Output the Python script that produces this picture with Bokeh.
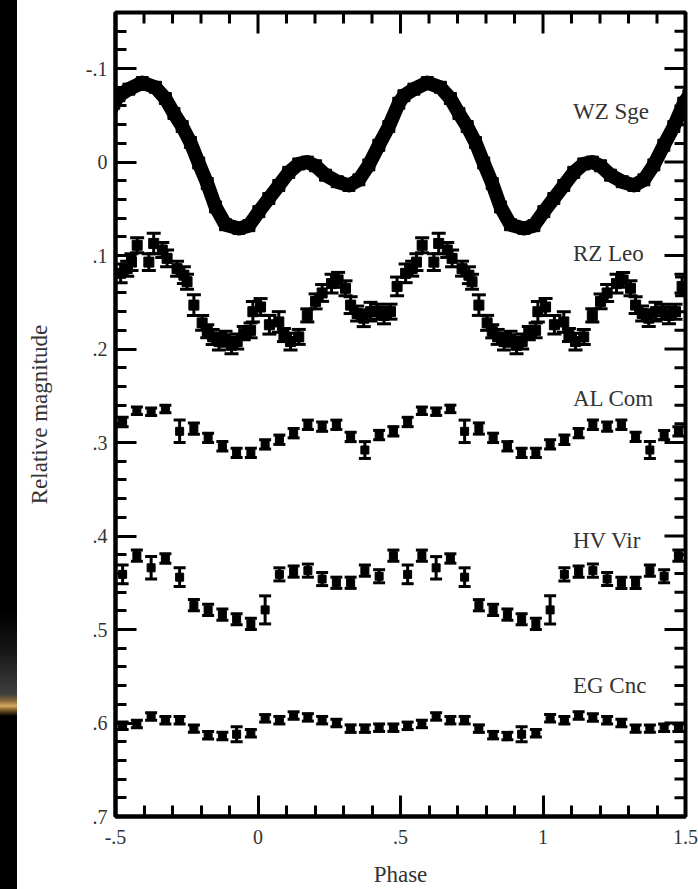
from bokeh.plotting import figure
from bokeh.models import (Range1d, FixedTicker, Whisker, TeeHead, ColumnDataSource, Div)
from bokeh.layouts import row
from bokeh.embed import file_html
from bokeh.resources import INLINE
from bokeh.core.properties import value

# ---------------- data: one phase-folded cycle (phase in [-0.5, 0.5)) -------------
# The published figure repeats each light curve over two cycles (phase -0.5 .. 1.5).
wz_phase = [-0.488, -0.453, -0.406, -0.360, -0.325, -0.295, -0.266, -0.237, -0.208,
            -0.178, -0.149, -0.114, -0.067, -0.032, 0.003, 0.038, 0.073, 0.108,
            0.143, 0.173, 0.202, 0.237, 0.278, 0.319, 0.354, 0.389, 0.424, 0.459, 0.494]
wz_mag = [-0.071, -0.078, -0.085, -0.080, -0.068, -0.052, -0.038, -0.021, 0.001,
          0.023, 0.048, 0.067, 0.071, 0.068, 0.053, 0.039, 0.025, 0.011,
          0.002, 0.000, 0.004, 0.014, 0.021, 0.025, 0.019, 0.003, -0.018, -0.038, -0.063]

rz_phase = [-0.482, -0.459, -0.444, -0.424, -0.383, -0.366, -0.336, -0.319, -0.284,
            -0.260, -0.249, -0.225, -0.196, -0.178, -0.159, -0.137, -0.114, -0.093,
            -0.073, -0.050, -0.026, -0.018, 0.009, 0.040, 0.073, 0.091, 0.114, 0.143,
            0.173, 0.202, 0.225, 0.258, 0.281, 0.307, 0.325, 0.348, 0.371, 0.395,
            0.418, 0.442, 0.465, 0.488]
rz_mag = [0.119, 0.114, 0.107, 0.089, 0.107, 0.087, 0.094, 0.103, 0.114,
          0.121, 0.128, 0.153, 0.172, 0.181, 0.187, 0.192, 0.189, 0.196,
          0.192, 0.183, 0.180, 0.160, 0.155, 0.174, 0.171, 0.185, 0.192, 0.187,
          0.164, 0.149, 0.140, 0.130, 0.126, 0.135, 0.153, 0.162, 0.167, 0.160,
          0.160, 0.164, 0.160, 0.133]
rz_err = [0.010, 0.008, 0.009, 0.008, 0.009, 0.011, 0.008, 0.009, 0.008,
          0.009, 0.008, 0.011, 0.008, 0.007, 0.008, 0.009, 0.008, 0.009,
          0.008, 0.007, 0.008, 0.011, 0.009, 0.010, 0.011, 0.007, 0.009, 0.008,
          0.007, 0.008, 0.009, 0.010, 0.008, 0.008, 0.009, 0.008, 0.009, 0.010,
          0.008, 0.009, 0.008, 0.010]

bin_phase = [-0.475, -0.425, -0.375, -0.325, -0.275, -0.225, -0.175, -0.125, -0.075,
             -0.025, 0.025, 0.075, 0.125, 0.175, 0.225, 0.275, 0.325, 0.375, 0.425, 0.475]

al_mag = [0.278, 0.266, 0.267, 0.264, 0.288, 0.285, 0.295, 0.304, 0.311, 0.311,
          0.302, 0.297, 0.290, 0.281, 0.283, 0.281, 0.294, 0.308, 0.292, 0.288]
al_err = [0.005, 0.004, 0.004, 0.004, 0.012, 0.006, 0.005, 0.005, 0.005, 0.005,
          0.005, 0.005, 0.005, 0.005, 0.005, 0.005, 0.005, 0.009, 0.005, 0.005]

hv_mag = [0.441, 0.421, 0.434, 0.424, 0.444, 0.474, 0.479, 0.484, 0.489, 0.494,
          0.479, 0.441, 0.438, 0.437, 0.446, 0.450, 0.450, 0.437, 0.443, 0.421]
hv_err = [0.010, 0.006, 0.012, 0.005, 0.010, 0.006, 0.006, 0.006, 0.006, 0.006,
          0.015, 0.007, 0.006, 0.007, 0.007, 0.006, 0.006, 0.006, 0.007, 0.006]

eg_mag = [0.603, 0.601, 0.593, 0.597, 0.597, 0.606, 0.613, 0.614, 0.612, 0.611,
          0.595, 0.597, 0.592, 0.594, 0.597, 0.600, 0.606, 0.606, 0.605, 0.605]
eg_err = [0.004, 0.004, 0.004, 0.004, 0.004, 0.004, 0.004, 0.004, 0.008, 0.004,
          0.004, 0.004, 0.004, 0.004, 0.004, 0.004, 0.004, 0.004, 0.004, 0.004]

star_names = ["WZ Sge", "RZ Leo", "AL Com", "HV Vir", "EG Cnc"]
name_y = [-0.054, 0.098, 0.253, 0.405, 0.560]
name_x = 1.105

x_ticks = [-0.5, 0, 0.5, 1, 1.5]
x_tick_labels = ["-.5", "0", ".5", "1", "1.5"]
y_ticks = [-0.1, 0, 0.1, 0.2, 0.3, 0.4, 0.5, 0.6, 0.7]
y_tick_labels = ["-.1", "0", ".1", ".2", ".3", ".4", ".5", ".6", ".7"]
x_minor = [-0.4, -0.3, -0.2, -0.1, 0.1, 0.2, 0.3, 0.4, 0.6, 0.7, 0.8, 0.9,
           1.1, 1.2, 1.3, 1.4]
y_minor = [-0.16, -0.14, -0.12, -0.08, -0.06, -0.04, -0.02, 0.02, 0.04, 0.06, 0.08,
           0.12, 0.14, 0.16, 0.18, 0.22, 0.24, 0.26, 0.28, 0.32, 0.34, 0.36, 0.38,
           0.42, 0.44, 0.46, 0.48, 0.52, 0.54, 0.56, 0.58, 0.62, 0.64, 0.66, 0.68]

XMIN, XMAX = -0.5, 1.5
YTOP, YBOT = -0.16, 0.7

# ---------------- layout constants ----------------
STRIP_W = 17
FIG_W, FIG_H = 681, 889
B_LEFT, B_RIGHT, B_TOP, B_BOTTOM = 98, 13, 12, 72
FRAME_W = FIG_W - B_LEFT - B_RIGHT
FRAME_H = FIG_H - B_TOP - B_BOTTOM
PX_X = FRAME_W / (XMAX - XMIN)     # pixels per phase unit
PX_Y = FRAME_H / (YBOT - YTOP)     # pixels per magnitude unit
MAJ_LEN, MIN_LEN = 21, 11          # inward tick lengths in px

SERIF = "Liberation Serif"
TXT = "#333333"


def fold(phase, vals, errs=None, shifts=(0, 1)):
    xs, ys, es = [], [], []
    for s in shifts:
        for i, ph in enumerate(phase):
            xs.append(ph + s)
            ys.append(vals[i])
            es.append(errs[i] if errs is not None else 0.0)
    return xs, ys, es


p = figure(width=FIG_W, height=FIG_H, x_range=Range1d(XMIN, XMAX),
           y_range=Range1d(YBOT, YTOP), output_backend="svg",
           toolbar_location=None, min_border_left=B_LEFT, min_border_right=B_RIGHT,
           min_border_top=B_TOP, min_border_bottom=B_BOTTOM,
           background_fill_color="white", border_fill_color="white")
p.grid.visible = False
p.outline_line_color = "black"
p.outline_line_width = 4


def style_axis(ax):
    ax.axis_line_width = 4
    ax.axis_line_color = "black"
    ax.major_tick_in = MAJ_LEN
    ax.major_tick_out = 0
    ax.minor_tick_in = MIN_LEN
    ax.minor_tick_out = 0
    ax.major_tick_line_width = 3
    ax.minor_tick_line_width = 3
    ax.major_tick_line_color = "black"
    ax.minor_tick_line_color = "black"
    ax.major_label_text_font = SERIF
    ax.major_label_text_color = TXT
    ax.major_label_text_font_size = "20px"
    ax.axis_label_text_font = SERIF
    ax.axis_label_text_font_size = "23px"
    ax.axis_label_text_font_style = "normal"
    ax.axis_label_text_color = TXT


xa = p.xaxis[0]
xa.ticker = FixedTicker(ticks=x_ticks, minor_ticks=x_minor)
xa.major_label_overrides = dict(zip(x_ticks, x_tick_labels))
style_axis(xa)
xa.major_label_standoff = 13
xa.axis_label = "Phase"
xa.axis_label_standoff = 15

ya = p.yaxis[0]
ya.ticker = FixedTicker(ticks=y_ticks, minor_ticks=y_minor)
ya.major_label_overrides = dict(zip(y_ticks, y_tick_labels))
style_axis(ya)
ya.major_label_standoff = 8
ya.major_label_orientation = "horizontal"
ya.axis_label = "Relative magnitude"
ya.axis_label_standoff = 31

# mirrored inward ticks on the top and right frame edges
top_x = x_ticks + x_minor
top_len = [MAJ_LEN] * len(x_ticks) + [MIN_LEN] * len(x_minor)
p.segment(x0=top_x, x1=top_x, y0=[YTOP] * len(top_x),
          y1=[YTOP + L / PX_Y for L in top_len], line_color="black", line_width=3)
right_y = y_ticks + y_minor
right_len = [MAJ_LEN] * len(y_ticks) + [MIN_LEN] * len(y_minor)
p.segment(x0=[XMAX] * len(right_y), x1=[XMAX - L / PX_X for L in right_len],
          y0=right_y, y1=right_y, line_color="black", line_width=3)

# WZ Sge: dense points that merge into a thick band
wx, wy, _ = fold(wz_phase, wz_mag, shifts=(-1, 0, 1, 2))
wsrc = ColumnDataSource(dict(x=wx, y=wy))
p.line("x", "y", source=wsrc, line_width=14, line_color="black",
       line_join="round", line_cap="round")
p.scatter("x", "y", source=wsrc, marker="square", size=12, color="black")


def err_series(phase, vals, errs, msize, cap):
    xs, ys, es = fold(phase, vals, errs)
    keep = [i for i, x in enumerate(xs) if XMIN <= x <= XMAX]
    xs = [xs[i] for i in keep]
    ys = [ys[i] for i in keep]
    es = [es[i] for i in keep]
    src = ColumnDataSource(dict(x=xs, y=ys, lo=[y - e for y, e in zip(ys, es)],
                                hi=[y + e for y, e in zip(ys, es)]))
    w = Whisker(source=src, base="x", lower="lo", upper="hi", dimension="height",
                line_color="black", line_width=3,
                lower_head=TeeHead(size=cap, line_width=3, line_color="black"),
                upper_head=TeeHead(size=cap, line_width=3, line_color="black"))
    p.add_layout(w)
    p.scatter("x", "y", source=src, marker="square", size=msize, color="black")


err_series(rz_phase, rz_mag, rz_err, 10, 14)
err_series(bin_phase, al_mag, al_err, 8, 12)
err_series(bin_phase, hv_mag, hv_err, 8, 12)
err_series(bin_phase, eg_mag, eg_err, 8, 12)

lsrc = ColumnDataSource(dict(x=[name_x] * len(star_names), y=name_y, t=star_names))
p.text("x", "y", text="t", source=lsrc, text_font=value(SERIF),
       text_font_size="23px", text_color=TXT, text_align="left",
       text_baseline="middle")

# ---------------- decorative dark strip on the left edge of the slide ----------------
strip = Div(text="", width=STRIP_W, height=FIG_H, margin=0,
            styles={"background": "linear-gradient(to bottom, #000 0px, #000 612px, "
                                  "#161616 650px, #3e3e3e 694px, #8a6a3a 701px, "
                                  "#d8aa60 706px, #7a5a28 710px, #000 716px, #000 889px)"})

layout = row(strip, p)
open("out.html", "w").write(file_html(layout, INLINE))
